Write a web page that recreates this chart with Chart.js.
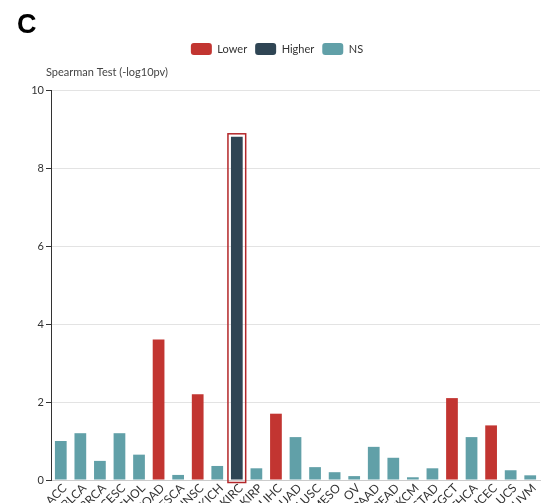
<!DOCTYPE html>
<html>
<head>
<meta charset="utf-8">
<script src="https://cdn.jsdelivr.net/npm/chart.js@4/dist/chart.umd.min.js"></script>
<style>
html,body{margin:0;padding:0;background:#fff;overflow:hidden;width:543px;height:503px;}
#wrap{position:absolute;left:0;top:0;width:543px;height:560px;}
#lbl{position:absolute;left:17px;top:9px;font-family:"Liberation Sans",Arial,sans-serif;font-weight:bold;font-size:27px;color:#000;}
</style>
</head>
<body>
<div id="wrap"><canvas id="c" width="543" height="560"></canvas></div>
<div id="lbl">C</div>
<script>
const categories = ['ACC','BLCA','BRCA','CESC','CHOL','COAD','ESCA','HNSC','KICH','KIRC','KIRP','LIHC','LUAD','LUSC','MESO','OV','PAAD','READ','SKCM','STAD','TGCT','THCA','UCEC','UCS','UVM'];
const values = [1.0,1.2,0.49,1.2,0.65,3.6,0.13,2.2,0.36,8.8,0.3,1.7,1.1,0.33,0.2,0.1,0.85,0.57,0.07,0.3,2.1,1.1,1.4,0.25,0.12];
const groups = ['NS','NS','NS','NS','NS','Lower','NS','Lower','NS','Higher','NS','Lower','NS','NS','NS','NS','NS','NS','NS','NS','Lower','NS','Lower','NS','NS'];
const seriesNames = ['Lower','Higher','NS'];
const seriesColors = ['#c23531','#2f4554','#61a0a8'];
const yTicks = [0,2,4,6,8,10];
const highlighted = 'KIRC';
const yTitle = 'Spearman Test (-log10pv)';

const FONT = 'Lato,"Open Sans",sans-serif';

const datasets = seriesNames.map((name, k) => ({
  label: name,
  data: values.map((v, i) => groups[i] === name ? v : null),
  backgroundColor: seriesColors[k],
  borderWidth: 0,
  categoryPercentage: 1.0,
  barPercentage: 0.6
}));

// spacer box placed between legend and plot area
const spacer = {
  id: 'spacer',
  beforeInit(chart) {
    const box = {
      position: 'top', weight: 0, fullSize: false,
      options: { position: 'top', weight: 0, fullSize: false },
      left: 0, top: 0, right: 0, bottom: 0, width: 0, height: 0,
      isHorizontal() { return true; },
      update(maxWidth) { this.width = maxWidth; this.height = 25; },
      draw() {}
    };
    Chart.layouts.addBox(chart, box);
  }
};

const extras = {
  id: 'extras',
  afterDatasetsDraw(chart) {
    const ctx = chart.ctx;
    const idx = categories.indexOf(highlighted);
    const di = seriesNames.indexOf(groups[idx]);
    const el = chart.getDatasetMeta(di).data[idx];
    if (el) {
      const p = el.getProps(['x','y','base','width'], true);
      ctx.save();
      ctx.strokeStyle = '#b3272a';
      ctx.lineWidth = 1.5;
      const pad = 3;
      ctx.strokeRect(p.x - p.width/2 - pad, p.y - pad, p.width + 2*pad, (p.base - p.y) + 2*pad);
      ctx.restore();
    }
    ctx.save();
    ctx.font = '11px ' + FONT;
    ctx.fillStyle = '#444';
    ctx.textBaseline = 'middle';
    ctx.textAlign = 'left';
    ctx.fillText(yTitle, chart.chartArea.left - 5, 72);
    ctx.restore();
  }
};

new Chart(document.getElementById('c'), {
  type: 'bar',
  data: { labels: categories, datasets },
  options: {
    responsive: false,
    animation: false,
    layout: { padding: { top: 35, right: 3, left: 14, bottom: 0 } },
    plugins: {
      legend: {
        position: 'top',
        labels: {
          boxWidth: 21, boxHeight: 12, useBorderRadius: true, borderRadius: 3,
          padding: 8, color: '#333', font: { family: FONT, size: 11 }
        }
      },
      tooltip: { enabled: false }
    },
    scales: {
      x: {
        stacked: true,
        grid: { display: false },
        border: { color: '#ccc' },
        ticks: { minRotation: 45, maxRotation: 45, autoSkip: false, color: '#333', padding: -7, labelOffset: 4, font: { family: FONT, size: 12 } },
        afterFit: s => { s.height = 80; }
      },
      y: {
        stacked: true,
        min: 0, max: 10,
        afterBuildTicks: s => { s.ticks = yTicks.map(v => ({ value: v })); },
        grid: { color: '#e3e3e3', tickColor: '#333', tickLength: 5 },
        border: { color: '#333', width: 1 },
        ticks: { color: '#333', padding: 2, font: { family: FONT, size: 11 } },
        afterFit: s => { s.width = 37; }
      }
    }
  },
  plugins: [spacer, extras]
});
</script>
</body>
</html>
